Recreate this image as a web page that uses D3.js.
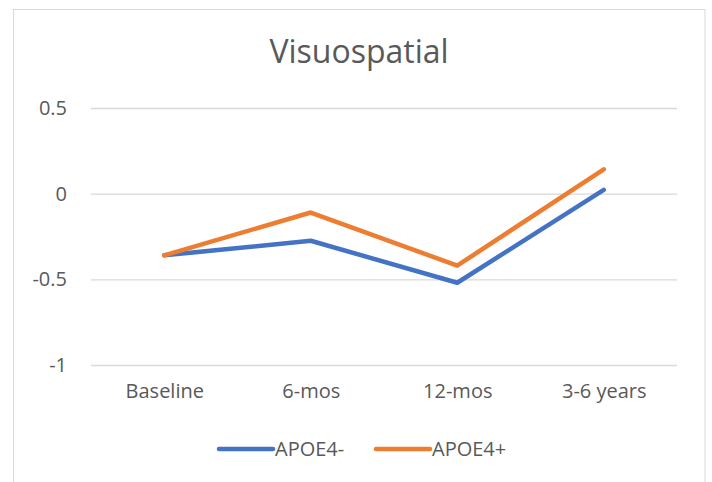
<!DOCTYPE html>
<html>
<head>
<meta charset="utf-8">
<script src="https://cdn.jsdelivr.net/npm/d3@7"></script>
<style>
  body { margin: 0; background: #fff; }
  text { font-family: "Open Sans", Lato, sans-serif; fill: #595959; }
</style>
</head>
<body>
<script>
// chart data
var categories = ['Baseline', '6-mos', '12-mos', '3-6 years'];
var seriesNames = ['APOE4-', 'APOE4+'];
var apoeNeg = [-0.36, -0.275, -0.52, 0.022];
var apoePos = [-0.36, -0.11, -0.42, 0.142];
var yTicks = [0.5, 0, -0.5, -1];
var colors = ['#4472C4', '#ED7D31'];

var width = 712, height = 482;
var plot = { left: 91, right: 677, top: 108, bottom: 365 };

var svg = d3.select('body').append('svg')
    .attr('width', width)
    .attr('height', height);

// chart frame
svg.append('rect')
    .attr('x', 13.5).attr('y', 9.5)
    .attr('width', 705 - 13.5).attr('height', 490)
    .attr('fill', 'none')
    .attr('stroke', '#d9d9d9')
    .attr('stroke-width', 1);

svg.append('text')
    .attr('x', 359).attr('y', 63)
    .attr('text-anchor', 'middle')
    .style('font-size', '32px')
    .text('Visuospatial');

var x = d3.scalePoint()
    .domain(categories)
    .range([plot.left, plot.right])
    .padding(0.5);

var y = d3.scaleLinear()
    .domain([-1, 0.5])
    .range([plot.bottom, plot.top]);

// gridlines + y labels
var yAxis = svg.append('g')
    .attr('transform', 'translate(' + plot.left + ',0)')
    .call(d3.axisLeft(y).tickValues(yTicks).tickSize(-(plot.right - plot.left)).tickPadding(24)
        .tickFormat(function (d) { return d === 0 ? '0' : String(d); }));
yAxis.select('.domain').remove();
yAxis.selectAll('line').attr('stroke', '#d9d9d9').attr('stroke-width', 1.3);
yAxis.selectAll('text').style('font-size', '20px').attr('fill', '#595959')
    .style('font-family', '"Open Sans", sans-serif');

// x labels
var xAxis = svg.append('g')
    .attr('transform', 'translate(0,' + plot.bottom + ')')
    .call(d3.axisBottom(x).tickSize(0).tickPadding(19));
xAxis.select('.domain').remove();
xAxis.selectAll('text').style('font-size', '20px').attr('fill', '#595959')
    .style('font-family', '"Open Sans", sans-serif');

var line = d3.line()
    .x(function (d, i) { return x(categories[i]); })
    .y(function (d) { return y(d); });

[apoeNeg, apoePos].forEach(function (values, i) {
    svg.append('path')
        .datum(values)
        .attr('d', line)
        .attr('fill', 'none')
        .attr('stroke', colors[i])
        .attr('stroke-width', 4.5)
        .attr('stroke-linecap', 'round')
        .attr('stroke-linejoin', 'round');
});

// legend
var legendX = [219, 376];
seriesNames.forEach(function (name, i) {
    var g = svg.append('g').attr('transform', 'translate(' + legendX[i] + ',449)');
    g.append('line')
        .attr('x1', 0).attr('x2', 54)
        .attr('stroke', colors[i])
        .attr('stroke-width', 4.5)
        .attr('stroke-linecap', 'round');
    g.append('text')
        .attr('x', 56).attr('y', 7)
        .style('font-size', '20px')
        .text(name);
});
</script>
</body>
</html>
